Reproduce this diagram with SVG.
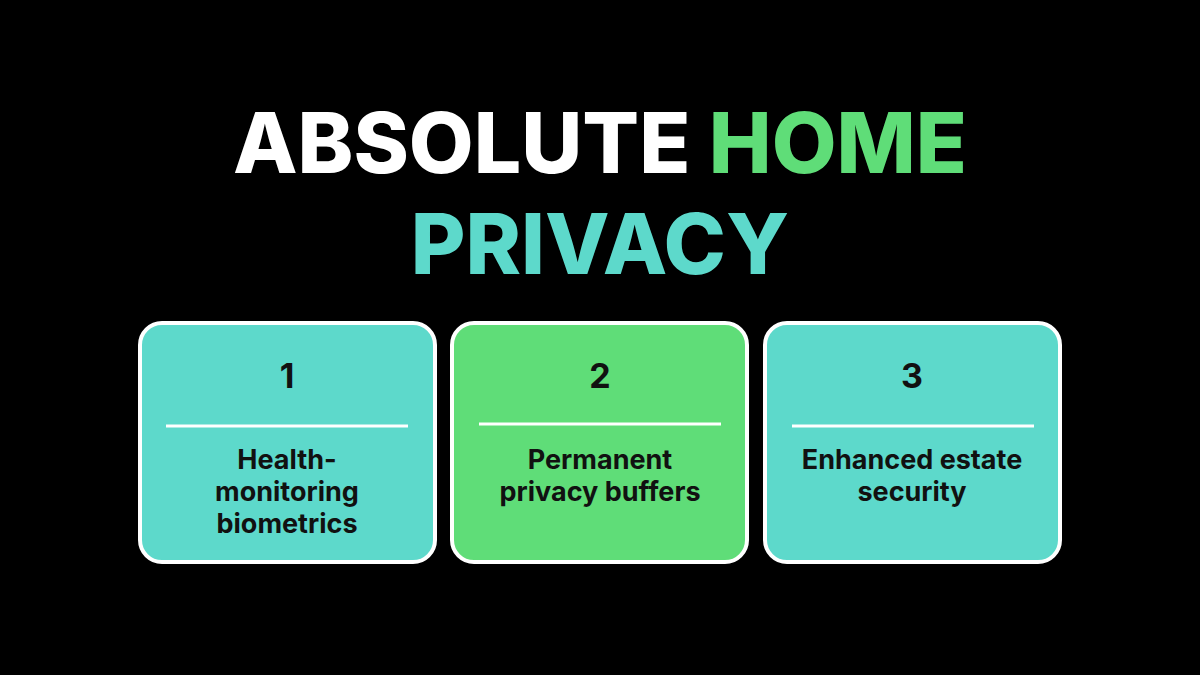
<svg xmlns="http://www.w3.org/2000/svg" width="1200" height="675" viewBox="0 0 1200 675">
<style>
.t{font-family:Inter,"Open Sans",sans-serif;font-weight:800;font-size:84px;text-anchor:middle}
.box{stroke:#fff;stroke-width:4}
.n{font-family:Inter,"Open Sans",sans-serif;font-weight:700;font-size:34px;text-anchor:middle;fill:#111}
.l{font-family:Inter,"Open Sans",sans-serif;font-weight:700;font-size:27px;text-anchor:middle;fill:#111}
.sep{stroke:#fff;stroke-width:3}
</style>
<rect width="1200" height="675" fill="#000"/>
<text class="t" x="600" y="173"><tspan fill="#fff">ABSOLUTE </tspan><tspan fill="#5FDD78">HOME</tspan></text>
<text class="t" x="600" y="274" fill="#5DD9CB">PRIVACY</text>
<g id="node1">
<rect class="box" x="140" y="323" width="295" height="239" rx="22" fill="#5DD9CB"/>
<text class="n" x="287" y="388">1</text>
<line class="sep" x1="166" y1="426" x2="408" y2="426"/>
<text class="l" x="287" y="469">Health-</text>
<text class="l" x="287" y="501">monitoring</text>
<text class="l" x="287" y="533">biometrics</text>
</g>
<g id="node2">
<rect class="box" x="452" y="323" width="295" height="239" rx="22" fill="#5FDD78"/>
<text class="n" x="600" y="388">2</text>
<line class="sep" x1="479" y1="424" x2="721" y2="424"/>
<text class="l" x="600" y="469">Permanent</text>
<text class="l" x="600" y="501">privacy buffers</text>
</g>
<g id="node3">
<rect class="box" x="765" y="323" width="295" height="239" rx="22" fill="#5DD9CB"/>
<text class="n" x="912" y="388">3</text>
<line class="sep" x1="792" y1="426" x2="1034" y2="426"/>
<text class="l" x="912" y="469">Enhanced estate</text>
<text class="l" x="912" y="501">security</text>
</g>
<g id="connectors"/>
</svg>
